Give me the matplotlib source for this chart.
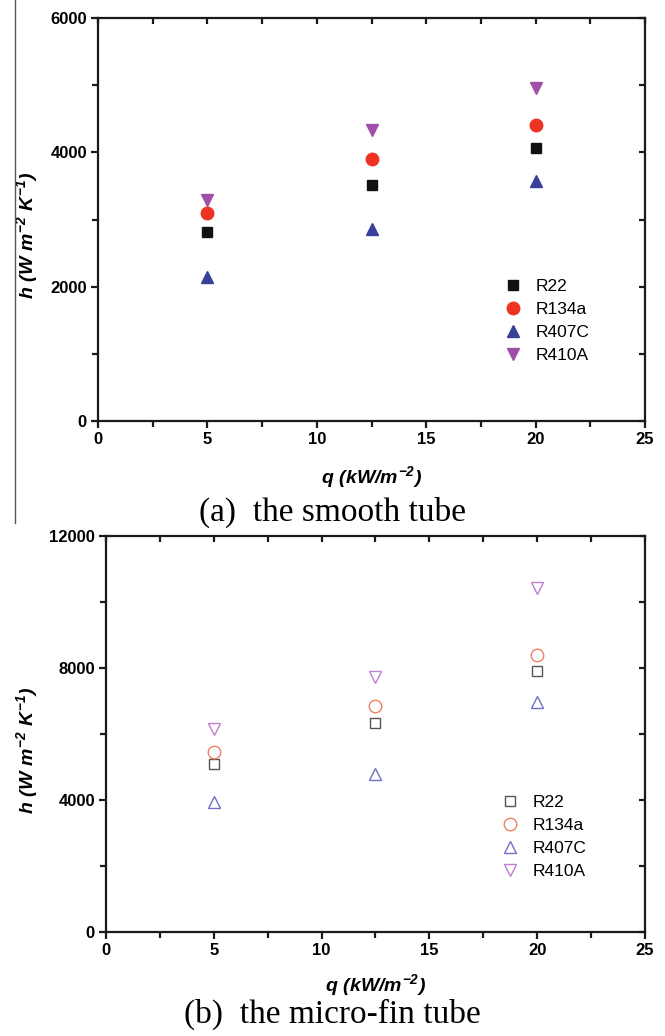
import matplotlib
matplotlib.use('Agg')
import matplotlib.pyplot as plt
from matplotlib.ticker import MultipleLocator
from matplotlib.lines import Line2D

plt.rcParams['font.family'] = ['Liberation Sans', 'DejaVu Sans']
plt.rcParams['mathtext.fontset'] = 'custom'
plt.rcParams['mathtext.rm'] = 'Liberation Sans:bold:italic'
plt.rcParams['mathtext.it'] = 'Liberation Sans:bold:italic'
plt.rcParams['mathtext.bf'] = 'Liberation Sans:bold:italic'

q = [5, 12.5, 20]
names = ['R22', 'R134a', 'R407C', 'R410A']

# smooth tube
smooth_r22 = [2810, 3520, 4070]
smooth_r134a = [3100, 3905, 4400]
smooth_r407c = [2150, 2860, 3580]
smooth_r410a = [3290, 4330, 4955]

# micro-fin tube
fin_r22 = [5100, 6340, 7900]
fin_r134a = [5450, 6850, 8380]
fin_r407c = [3950, 4780, 6970]
fin_r410a = [6160, 7740, 10420]

markers = ['s', 'o', '^', 'v']
sizes = [7.5, 9, 9, 9]
top_colors = ['#111111', '#ee3322', '#3a3f9a', '#a050a8']
bot_colors = ['#555555', '#f08060', '#7070c8', '#c080d0']

fig = plt.figure(figsize=(6.65, 10.36), dpi=100)


def style_axes(ax, ymax, ymajor, yminor):
    ax.set_xlim(0, 25)
    ax.set_ylim(0, ymax)
    ax.xaxis.set_major_locator(MultipleLocator(5))
    ax.xaxis.set_minor_locator(MultipleLocator(2.5))
    ax.yaxis.set_major_locator(MultipleLocator(ymajor))
    ax.yaxis.set_minor_locator(MultipleLocator(yminor))
    for s in ax.spines.values():
        s.set_linewidth(1.6)
        s.set_color('#1a1a1a')
    ax.tick_params(which='both', direction='out', width=1.6, color='#1a1a1a',
                   top=False, right=False)
    ax.tick_params(which='major', length=5, labelsize=12, pad=3)
    ax.tick_params(which='minor', length=4)
    for lab in ax.get_xticklabels() + ax.get_yticklabels():
        lab.set_fontweight('bold')
    # inward ticks on top and right
    sec = ax.secondary_xaxis('top')
    sec.xaxis.set_major_locator(MultipleLocator(5))
    sec.xaxis.set_minor_locator(MultipleLocator(2.5))
    sec.tick_params(which='both', direction='in', width=1.6, color='#1a1a1a',
                    labeltop=False, length=4)
    sec.spines['top'].set_visible(False)
    sec2 = ax.secondary_yaxis('right')
    sec2.yaxis.set_major_locator(MultipleLocator(ymajor))
    sec2.yaxis.set_minor_locator(MultipleLocator(yminor))
    sec2.tick_params(which='both', direction='in', width=1.6, color='#1a1a1a',
                     labelright=False, length=4)
    sec2.spines['right'].set_visible(False)
    ax.set_xlabel(r'$q\ (kW/m^{-2})$', fontsize=14, labelpad=12)
    ax.set_ylabel(r'$h\ (W\ m^{-2}\ K^{-1})$', fontsize=14)


# top panel
ax1 = fig.add_axes([0.1474, 0.5936, 0.8226, 0.389])
top_series = [smooth_r22, smooth_r134a, smooth_r407c, smooth_r410a]
for vals, m, ms, c, n in zip(top_series, markers, sizes, top_colors, names):
    ax1.plot(q, vals, linestyle='none', marker=m, markersize=ms, color=c, label=n)
style_axes(ax1, 6000, 2000, 1000)
ax1.yaxis.set_label_coords(-0.106, 0.46)
ax1.legend(loc='upper left', bbox_to_anchor=(0.742, 0.352), frameon=False,
           fontsize=12.5, handletextpad=0.8, labelspacing=0.45, handlelength=1.0,
           borderpad=0, borderaxespad=0)

# bottom panel
ax2 = fig.add_axes([0.1594, 0.1004, 0.8105, 0.3822])
bot_series = [fin_r22, fin_r134a, fin_r407c, fin_r410a]
for vals, m, ms, c, n in zip(bot_series, markers, sizes, bot_colors, names):
    ax2.plot(q, vals, linestyle='none', marker=m, markersize=ms, color=c,
             markerfacecolor='none', markeredgewidth=1.0, label=n)
style_axes(ax2, 12000, 4000, 2000)
ax2.xaxis.labelpad = 10
ax2.yaxis.set_label_coords(-0.122, 0.46)
ax2.legend(loc='upper left', bbox_to_anchor=(0.733, 0.346), frameon=False,
           fontsize=12.5, handletextpad=0.8, labelspacing=0.45, handlelength=1.0,
           borderpad=0, borderaxespad=0)

# captions
fig.text(0.5, 0.505, '(a)  the smooth tube', ha='center', va='center',
         fontsize=24, family='Liberation Serif')
fig.text(0.5, 0.021, '(b)  the micro-fin tube', ha='center', va='center',
         fontsize=24, family='Liberation Serif')

# thin vertical rule at left of upper panel
fig.add_artist(Line2D([0.0226, 0.0226], [0.495, 1.0], color='#555555', linewidth=1.0))

fig.savefig('out.png', dpi=100)
